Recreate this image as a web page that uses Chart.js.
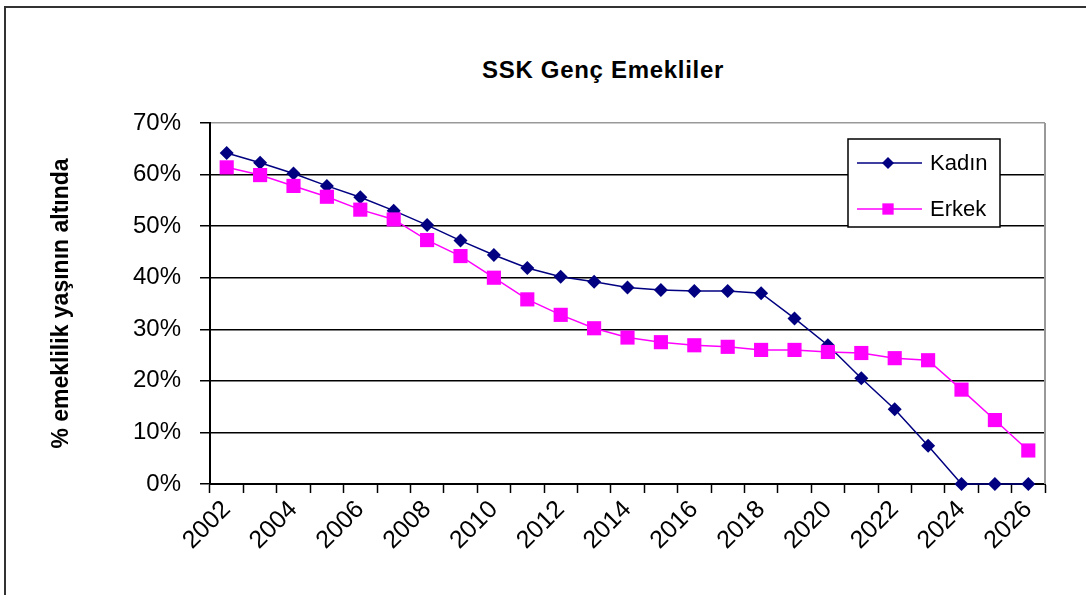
<!DOCTYPE html>
<html>
<head>
<meta charset="utf-8">
<script src="https://cdn.jsdelivr.net/npm/chart.js@4/dist/chart.umd.min.js"></script>
<style>
  html, body { margin: 0; padding: 0; background: #fff; overflow: hidden; }
  #wrap { position: relative; width: 1086px; height: 595px; }
  #frame { position: absolute; left: 4px; top: 6px; width: 1200px; height: 800px; border: 2px solid #333; }
  #title {
    position: absolute; left: 603px; top: 56px; transform: translateX(-50%);
    font: bold 24px "Liberation Sans", Arial, sans-serif; line-height: 28px; color: #000;
    white-space: nowrap; letter-spacing: 0.7px;
  }
  canvas { position: absolute; left: 0; top: 0; }
</style>
</head>
<body>
<div id="wrap">
  <div id="frame"></div>
  <div id="title">SSK Genç Emekliler</div>
  <canvas id="chart" width="1086" height="595"></canvas>
</div>
<script>
// years on the category axis
const years = [2002, 2003, 2004, 2005, 2006, 2007, 2008, 2009, 2010, 2011, 2012, 2013,
  2014, 2015, 2016, 2017, 2018, 2019, 2020, 2021, 2022, 2023, 2024, 2025, 2026];

// share below retirement age, %
const kadin = [64.2, 62.3, 60.2, 57.8, 55.6, 53.0, 50.2, 47.2, 44.4, 41.9, 40.2, 39.2,
  38.1, 37.6, 37.4, 37.4, 37.0, 32.1, 26.9, 20.5, 14.5, 7.4, 0, 0, 0];
const erkek = [61.4, 59.9, 57.8, 55.7, 53.2, 51.3, 47.3, 44.2, 40.0, 35.8, 32.8, 30.2,
  28.4, 27.5, 26.9, 26.6, 26.0, 26.0, 25.6, 25.4, 24.4, 24.0, 18.3, 12.4, 6.5];

const seriesNames = ['Kadın', 'Erkek'];
const yTicks = [0, 10, 20, 30, 40, 50, 60, 70];

const FONT = '"Liberation Sans", Arial, sans-serif';

function drawMarker(ctx, style, r, x, y, color) {
  ctx.save();
  ctx.fillStyle = color;
  ctx.beginPath();
  if (style === 'rectRot') {
    ctx.moveTo(x, y - r); ctx.lineTo(x + r, y); ctx.lineTo(x, y + r); ctx.lineTo(x - r, y);
  } else {
    const s = r * Math.SQRT1_2;
    ctx.rect(x - s, y - s, 2 * s, 2 * s);
  }
  ctx.closePath();
  ctx.fill();
  ctx.restore();
}

// legend box sitting inside the plot, like the spreadsheet original
const insideLegend = {
  id: 'insideLegend',
  afterDraw(chart) {
    const { ctx, chartArea } = chart;
    const left = chartArea.right - 197, top = chartArea.top + 16, w = 152, h = 88;
    ctx.save();
    ctx.fillStyle = '#fff';
    ctx.fillRect(left, top, w, h);
    ctx.strokeStyle = '#000';
    ctx.lineWidth = 1.5;
    ctx.strokeRect(left, top, w, h);
    chart.data.datasets.forEach((ds, i) => {
      const yy = top + 24 + i * 46;
      ctx.strokeStyle = ds.borderColor;
      ctx.lineWidth = 1.5;
      ctx.beginPath();
      ctx.moveTo(left + 9, yy);
      ctx.lineTo(left + 74, yy);
      ctx.stroke();
      drawMarker(ctx, ds.pointStyle, ds.pointStyle === 'rect' ? 8 : 6, left + 40, yy, ds.backgroundColor);
      ctx.fillStyle = '#000';
      ctx.font = '22px ' + FONT;
      ctx.textBaseline = 'middle';
      ctx.textAlign = 'left';
      ctx.fillText(ds.label, left + 82, yy + 1);
    });
    ctx.restore();
  }
};

// gray right edge of the plot area
const plotEdge = {
  id: 'plotEdge',
  beforeDatasetsDraw(chart) {
    const { ctx, chartArea } = chart;
    ctx.save();
    ctx.strokeStyle = '#999';
    ctx.lineWidth = 2;
    ctx.beginPath();
    ctx.moveTo(chartArea.right, chartArea.top);
    ctx.lineTo(chartArea.right, chartArea.bottom);
    ctx.stroke();
    ctx.restore();
  }
};

new Chart(document.getElementById('chart'), {
  type: 'line',
  data: {
    labels: years,
    datasets: [
      {
        label: seriesNames[0],
        data: kadin,
        borderColor: '#000080',
        backgroundColor: '#000080',
        borderWidth: 1.5,
        pointStyle: 'rectRot',
        pointRadius: 7,
        pointBorderWidth: 0,
        tension: 0,
        clip: false,
        order: 1
      },
      {
        label: seriesNames[1],
        data: erkek,
        borderColor: '#ff00ff',
        backgroundColor: '#ff00ff',
        borderWidth: 1.5,
        pointStyle: 'rect',
        pointRadius: 10,
        pointBorderWidth: 0,
        tension: 0,
        clip: false,
        order: 0
      }
    ]
  },
  options: {
    responsive: false,
    animation: false,
    devicePixelRatio: 1,
    layout: { padding: { left: 0, right: 41, top: 123, bottom: 0 } },
    plugins: {
      legend: { display: false },
      title: { display: false },
      tooltip: { enabled: false }
    },
    scales: {
      x: {
        type: 'category',
        offset: true,
        afterFit(s) { s.height = 111; },
        grid: {
          display: true,
          offset: true,
          drawOnChartArea: false,
          tickLength: 9,
          tickColor: '#000',
          tickWidth: 1.5
        },
        border: { color: '#000', width: 2 },
        ticks: {
          autoSkip: false,
          minRotation: 45,
          maxRotation: 45,
          padding: 2,
          color: '#000',
          font: { family: FONT, size: 25 },
          callback(v, i) { return i % 2 === 0 ? String(years[i]) : ''; }
        }
      },
      y: {
        min: yTicks[0],
        max: yTicks[yTicks.length - 1],
        afterFit(s) { s.width = 210; },
        afterBuildTicks(s) { s.ticks = yTicks.map(v => ({ value: v })); },
        grid: {
          color: c => (c.tick && c.tick.value === 70 ? '#999' : '#000'),
          lineWidth: 1.5,
          tickLength: 10,
          tickColor: '#000',
          tickWidth: 1.5
        },
        border: { color: '#000', width: 2 },
        ticks: {
          padding: 19,
          color: '#000',
          font: { family: FONT, size: 24 },
          callback: v => v + '%'
        },
        title: {
          display: true,
          text: '% emeklilik yaşının altında',
          color: '#000',
          font: { family: FONT, size: 23, weight: 'bold' },
          padding: { top: 48, bottom: 0 }
        }
      }
    }
  },
  plugins: [plotEdge, insideLegend]
});
</script>
</body>
</html>
